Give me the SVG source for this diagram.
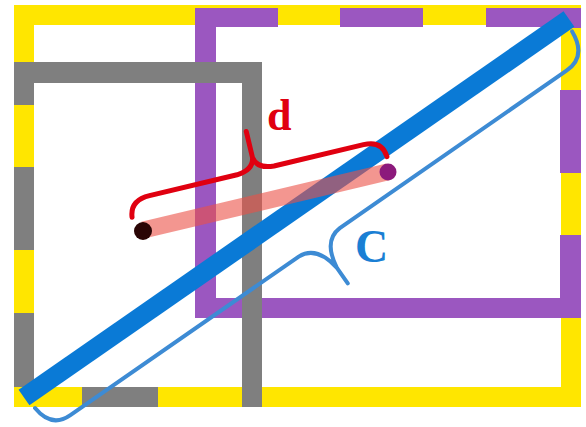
<svg xmlns="http://www.w3.org/2000/svg" width="586" height="427" viewBox="0 0 586 427">
<style>
.yel{fill:#ffe600}
.pur{fill:#9b57c0}
.gry{fill:#7f7f7f}
.lbl{font-family:"Liberation Serif","Times New Roman",serif;font-weight:bold}
</style>
<rect x="0" y="0" width="586" height="427" fill="#ffffff"/>
<g id="yellow-rect">
<rect x="24" y="15" width="547" height="382" fill="none" stroke="#ffe600" stroke-width="20"/>
</g>
<g id="purple-rect">
<rect class="pur" x="195" y="8" width="21" height="310"/>
<rect class="pur" x="195" y="298" width="386" height="20"/>
<rect class="pur" x="195" y="8" width="83" height="19"/>
<rect class="pur" x="340" y="8" width="83" height="19"/>
<rect class="pur" x="486" y="8" width="95" height="19"/>
<rect class="pur" x="560" y="8" width="21" height="20"/>
<rect class="pur" x="560" y="90" width="21" height="83"/>
<rect class="pur" x="560" y="235" width="21" height="83"/>
</g>
<g id="gray-rect">
<rect class="gry" x="14" y="62" width="248" height="21"/>
<rect class="gry" x="242" y="62" width="20" height="345"/>
<rect class="gry" x="14" y="62" width="20" height="43"/>
<rect class="gry" x="14" y="167" width="20" height="83"/>
<rect class="gry" x="14" y="313" width="20" height="74"/>
<rect class="gry" x="82" y="387" width="76" height="20"/>
</g>
<g id="connectors">
<g id="diagonal-C" transform="translate(24,397.5) rotate(-34.78)">
<line x1="0" y1="0" x2="663.5" y2="0" stroke="#0a7ad6" stroke-width="19"/>
<path d="M3,15 Q5,41 28,41 L306,41 Q327,42 331,72 L331,91 M331,72 Q335,42 356,41 L632,41 Q657,41 659,12" fill="none" stroke="#3d8bd4" stroke-width="4" stroke-linecap="round" stroke-linejoin="round"/>
</g>
<line id="distance-d" x1="143.3" y1="230" x2="388.3" y2="171.7" stroke="#eb5046" stroke-opacity="0.6" stroke-width="17"/>
<g id="brace-d" transform="translate(143.3,230) rotate(-13.39)">
<path d="M-8,-15 Q-6,-32 14,-32 L104,-32 Q121,-33 123,-45 L123,-72 M123,-45 Q125,-33 142,-32 L234,-32 Q253,-32 254,-15" fill="none" stroke="#e00010" stroke-width="5" stroke-linecap="round" stroke-linejoin="round"/>
</g>
</g>
<g id="point-a"><circle cx="143" cy="231" r="9" fill="#2a0505"/></g>
<g id="point-b"><circle cx="388" cy="172" r="8.5" fill="#8c1a7c"/></g>
<text class="lbl" x="267" y="130" font-size="44" fill="#e00010">d</text>
<text class="lbl" x="355" y="262" font-size="46" fill="#1a7fd4">C</text>
</svg>
